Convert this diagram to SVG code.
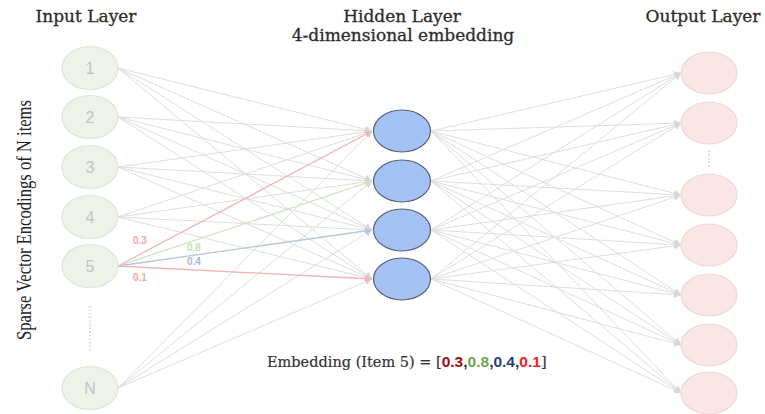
<svg xmlns="http://www.w3.org/2000/svg" width="765" height="414" viewBox="0 0 765 414">
  <style>
    .title { font-family: "DejaVu Serif", "Liberation Serif", serif; font-size: 17px; fill: #2b2b2b; stroke: #2b2b2b; stroke-width: 0.3; text-anchor: middle; }
    .side { font-family: "Liberation Serif", serif; font-size: 21px; fill: #222; text-anchor: middle; }
    .in-node ellipse { fill: #eef3e9; stroke: #dde7d6; stroke-width: 1.2; }
    .in-node text { font-family: "Liberation Sans", Arial, sans-serif; font-size: 16px; fill: #c2c2c2; text-anchor: middle; }
    .hid-node ellipse { fill: #a4c2f4; stroke: #5a6270; stroke-width: 1.2; }
    .out-node ellipse { fill: #fae6e6; stroke: #eed8d8; stroke-width: 1.2; }
    .edge { stroke: #dedede; stroke-width: 1; fill: none; marker-end: url(#arrGray); }
    .w { font-family: "Liberation Sans", Arial, sans-serif; font-size: 10px; font-weight: bold; }
    .dots { stroke: #bbb; stroke-width: 1.4; stroke-dasharray: 1.2 2.4; }
    .emb { font-family: "DejaVu Serif", "Liberation Serif", serif; font-size: 14.5px; fill: #333; stroke: #333; stroke-width: 0.2; }
    .num { font-family: "Liberation Sans", Arial, sans-serif; font-weight: bold; font-size: 15.5px; }
  </style>
  <defs>
    <marker id="arrGray" viewBox="0 0 10 10" refX="10" refY="5" markerWidth="7" markerHeight="7" markerUnits="userSpaceOnUse" orient="auto">
      <path d="M0,0 L10,5 L0,10 z" fill="#d8d8d8"/>
    </marker>
    <marker id="arrRed" viewBox="0 0 10 10" refX="10" refY="5" markerWidth="7" markerHeight="7" markerUnits="userSpaceOnUse" orient="auto">
      <path d="M0,0 L10,5 L0,10 z" fill="#f2b4b4"/>
    </marker>
    <marker id="arrGreen" viewBox="0 0 10 10" refX="10" refY="5" markerWidth="7" markerHeight="7" markerUnits="userSpaceOnUse" orient="auto">
      <path d="M0,0 L10,5 L0,10 z" fill="#cfe3c6"/>
    </marker>
    <marker id="arrBlue" viewBox="0 0 10 10" refX="10" refY="5" markerWidth="7" markerHeight="7" markerUnits="userSpaceOnUse" orient="auto">
      <path d="M0,0 L10,5 L0,10 z" fill="#b7c6dc"/>
    </marker>
  </defs>

  <rect width="765" height="414" fill="#ffffff"/>

  <!-- headings -->
  <text class="title" x="86" y="22">Input Layer</text>
  <text class="title" x="402" y="22">Hidden Layer</text>
  <text class="title" x="403" y="41">4-dimensional embedding</text>
  <text class="title" x="703" y="22">Output Layer</text>
  <text class="side" transform="translate(31,220) rotate(-90)" textLength="240" lengthAdjust="spacingAndGlyphs">Sparse Vector Encodings of N items</text>

  <!-- connectors -->
  <g id="connectors">
    <!-- input to hidden -->
    <path class="edge" d="M118,68 L372,131"/>
    <path class="edge" d="M118,68 L372,181"/>
    <path class="edge" d="M118,68 L372,230"/>
    <path class="edge" d="M118,68 L372,279"/>
    <path class="edge" d="M118,117 L372,131"/>
    <path class="edge" d="M118,117 L372,181"/>
    <path class="edge" d="M118,117 L372,230"/>
    <path class="edge" d="M118,117 L372,279"/>
    <path class="edge" d="M118,167 L372,131"/>
    <path class="edge" d="M118,167 L372,181"/>
    <path class="edge" d="M118,167 L372,230"/>
    <path class="edge" d="M118,167 L372,279"/>
    <path class="edge" d="M118,217 L372,131"/>
    <path class="edge" d="M118,217 L372,181"/>
    <path class="edge" d="M118,217 L372,230"/>
    <path class="edge" d="M118,217 L372,279"/>
    <path class="edge" d="M118,388 L372,131"/>
    <path class="edge" d="M118,388 L372,181"/>
    <path class="edge" d="M118,388 L372,230"/>
    <path class="edge" d="M118,388 L372,279"/>
    <!-- weights of item 5 -->
    <path d="M118,266 L372,131" stroke="#f2b4b4" stroke-width="1.3" fill="none" marker-end="url(#arrRed)"/>
    <path d="M118,266 L372,181" stroke="#cfe3c6" stroke-width="1.3" fill="none" marker-end="url(#arrGreen)"/>
    <path d="M118,266 L372,230" stroke="#b7c6dc" stroke-width="1.3" fill="none" marker-end="url(#arrBlue)"/>
    <path d="M118,266 L372,279" stroke="#f2b4b4" stroke-width="1.3" fill="none" marker-end="url(#arrRed)"/>
    <text class="w" x="133" y="244" fill="#f0a8a8">0.3</text>
    <text class="w" x="187" y="251" fill="#c6dfb9">0.8</text>
    <text class="w" x="187" y="265" fill="#a8b8d4">0.4</text>
    <text class="w" x="133" y="281" fill="#f0a8a8">0.1</text>

    <!-- hidden to output -->
    <path class="edge" d="M431,131 L681,73"/>
    <path class="edge" d="M431,131 L681,123"/>
    <path class="edge" d="M431,131 L681,195"/>
    <path class="edge" d="M431,131 L681,245"/>
    <path class="edge" d="M431,131 L681,295"/>
    <path class="edge" d="M431,131 L681,345"/>
    <path class="edge" d="M431,131 L681,393"/>
    <path class="edge" d="M431,181 L681,73"/>
    <path class="edge" d="M431,181 L681,123"/>
    <path class="edge" d="M431,181 L681,195"/>
    <path class="edge" d="M431,181 L681,245"/>
    <path class="edge" d="M431,181 L681,295"/>
    <path class="edge" d="M431,181 L681,345"/>
    <path class="edge" d="M431,181 L681,393"/>
    <path class="edge" d="M431,230 L681,73"/>
    <path class="edge" d="M431,230 L681,123"/>
    <path class="edge" d="M431,230 L681,195"/>
    <path class="edge" d="M431,230 L681,245"/>
    <path class="edge" d="M431,230 L681,295"/>
    <path class="edge" d="M431,230 L681,345"/>
    <path class="edge" d="M431,230 L681,393"/>
    <path class="edge" d="M431,279 L681,73"/>
    <path class="edge" d="M431,279 L681,123"/>
    <path class="edge" d="M431,279 L681,195"/>
    <path class="edge" d="M431,279 L681,245"/>
    <path class="edge" d="M431,279 L681,295"/>
    <path class="edge" d="M431,279 L681,345"/>
    <path class="edge" d="M431,279 L681,393"/>
  </g>

  <!-- input layer -->
  <g id="in1" class="in-node"><ellipse cx="90" cy="68" rx="28" ry="21.5"/><text x="90" y="74">1</text></g>
  <g id="in2" class="in-node"><ellipse cx="90" cy="117" rx="28" ry="21.5"/><text x="90" y="123">2</text></g>
  <g id="in3" class="in-node"><ellipse cx="90" cy="167" rx="28" ry="21.5"/><text x="90" y="173">3</text></g>
  <g id="in4" class="in-node"><ellipse cx="90" cy="217" rx="28" ry="21.5"/><text x="90" y="223">4</text></g>
  <g id="in5" class="in-node"><ellipse cx="90" cy="266" rx="28" ry="21.5"/><text x="90" y="272">5</text></g>
  <line class="dots" x1="90" y1="306" x2="90" y2="352"/>
  <g id="inN" class="in-node"><ellipse cx="90" cy="388" rx="28" ry="21.5"/><text x="90" y="394">N</text></g>

  <!-- hidden layer -->
  <g id="h1" class="hid-node"><ellipse cx="402" cy="131" rx="28.5" ry="21"/></g>
  <g id="h2" class="hid-node"><ellipse cx="402" cy="181" rx="28.5" ry="21"/></g>
  <g id="h3" class="hid-node"><ellipse cx="402" cy="230" rx="28.5" ry="21"/></g>
  <g id="h4" class="hid-node"><ellipse cx="402" cy="279" rx="28.5" ry="21"/></g>

  <!-- output layer -->
  <g id="o1" class="out-node"><ellipse cx="709" cy="73" rx="28" ry="21"/></g>
  <g id="o2" class="out-node"><ellipse cx="709" cy="123" rx="28" ry="21"/></g>
  <line class="dots" x1="709" y1="151" x2="709" y2="169"/>
  <g id="o3" class="out-node"><ellipse cx="709" cy="195" rx="28" ry="21"/></g>
  <g id="o4" class="out-node"><ellipse cx="709" cy="245" rx="28" ry="21"/></g>
  <g id="o5" class="out-node"><ellipse cx="709" cy="295" rx="28" ry="21"/></g>
  <g id="o6" class="out-node"><ellipse cx="709" cy="345" rx="28" ry="21"/></g>
  <g id="o7" class="out-node"><ellipse cx="709" cy="393" rx="28" ry="21"/></g>

  <!-- embedding vector -->
  <text x="267" y="367"><tspan class="emb">Embedding (Item 5) = [</tspan><tspan class="num" fill="#a50d0d">0.3</tspan><tspan class="num" fill="#333">,</tspan><tspan class="num" fill="#6aa84f">0.8</tspan><tspan class="num" fill="#333">,</tspan><tspan class="num" fill="#1f3f6e">0.4</tspan><tspan class="num" fill="#333">,</tspan><tspan class="num" fill="#ff1a1a">0.1</tspan><tspan class="emb">]</tspan></text>
</svg>
